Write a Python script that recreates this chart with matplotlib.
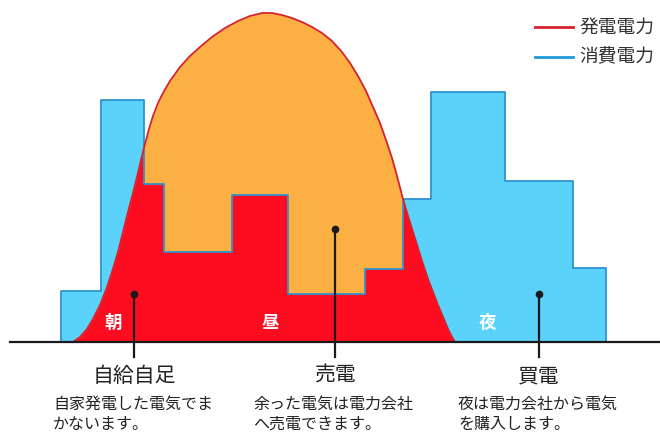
import matplotlib
matplotlib.use('Agg')
import matplotlib.pyplot as plt
from matplotlib.patches import Polygon
import numpy as np

plt.rcParams['font.family'] = ['Noto Sans CJK JP', 'DejaVu Sans']

# consumption (step bars): bar edges and heights above baseline
use_edges = [61, 101, 144, 164, 232, 288, 365, 403, 431, 505, 573, 606]
use_heights = [51, 242, 158, 90, 147, 48, 73, 143, 250, 161, 74]

# generation curve
gen_x = [73, 80, 87, 93, 100, 106, 112, 118, 123, 128, 133, 137, 141, 145, 149,
         153, 158, 163, 170, 180, 190, 200, 212, 225, 238, 250, 262, 272, 282,
         292, 302, 312, 322, 332, 342, 350, 358, 366, 373, 380, 386, 392, 397,
         403, 408, 413, 418, 423, 428, 433, 438, 443, 448, 452, 455]
gen_y = [0, 5, 13, 23, 37, 52, 70, 90, 110, 130, 149, 165, 182, 198, 213,
         226, 239, 249, 261, 275, 286, 295, 305, 314, 321, 326, 329, 329, 327,
         324, 320, 315, 309, 301, 290, 279, 266, 251, 235, 219, 202, 184, 166,
         143, 126, 110, 94, 78, 63, 50, 37, 25, 13, 5, 0]

period_labels = ['朝', '昼', '夜']
period_x = [113, 270, 487]

titles = ['自給自足', '売電', '買電']
title_x = [134, 335, 539]
dot_y = [48, 113, 48]
notes = [['自家発電した電気でま', 'かないます。'],
         ['余った電気は電力会社', 'へ売電できます。'],
         ['夜は電力会社から電気', 'を購入します。']]
note_x = [53, 253, 458]

legend_labels = ['発電電力', '消費電力']

BLUE = '#5bd2fa'
BLUE_EDGE = '#2f93cf'
RED = '#fd0b1e'
ORANGE = '#fcb043'
RED_LINE = '#d6222e'

fig = plt.figure(figsize=(6.6, 4.32), dpi=100)
ax = fig.add_axes([0, 0, 1, 1])
ax.set_xlim(0, 660)
ax.set_ylim(-90, 342)
ax.axis('off')

# outline of the consumption steps
sx = [use_edges[0]]
sy = [0]
for i, h in enumerate(use_heights):
    sx += [use_edges[i], use_edges[i + 1]]
    sy += [h, h]
sx.append(use_edges[-1])
sy.append(0)

cons_poly = Polygon(np.column_stack([sx, sy]), closed=True, facecolor=BLUE,
                    edgecolor='none', zorder=1)
ax.add_patch(cons_poly)

# generation: orange everywhere under the curve, red where consumption covers it
ax.fill_between(gen_x, gen_y, 0, color=ORANGE, lw=0, zorder=2)
red = ax.fill_between(gen_x, gen_y, 0, color=RED, lw=0, zorder=3)
red.set_clip_path(cons_poly)

ax.plot(sx, sy, color=BLUE_EDGE, lw=1.3, zorder=4)
ax.plot(gen_x, gen_y, color=RED_LINE, lw=1.3, zorder=5, solid_joinstyle='round')

# baseline
ax.plot([10, 660], [0, 0], color='#1a1a1a', lw=1.6, zorder=6)

for lab, x in zip(period_labels, period_x):
    ax.text(x, 19, lab, color='white', fontsize=12.5, fontweight='bold',
            ha='center', va='center', zorder=7)

# pointers and captions
for t, x, dy, note, nx in zip(titles, title_x, dot_y, notes, note_x):
    ax.plot([x, x], [dy, -15], color='#1a1a1a', lw=1.6, zorder=8)
    ax.plot(x, dy, 'o', color='#1a1a1a', markersize=4.5, zorder=8)
    ax.text(x, -34, t, fontsize=15, ha='center', va='center', color='#222222')
    ax.text(nx, -62, note[0], fontsize=11.5, ha='left', va='center', color='#222222')
    ax.text(nx, -82, note[1], fontsize=11.5, ha='left', va='center', color='#222222')

# legend
for lab, c, y in zip(legend_labels, [RED_LINE, '#1f9ad6'], [315, 285]):
    ax.plot([535, 573], [y, y], color=c, lw=2)
    ax.text(579, y, lab, fontsize=13.5, ha='left', va='center', color='#333333')

fig.savefig('out.png', dpi=100)
